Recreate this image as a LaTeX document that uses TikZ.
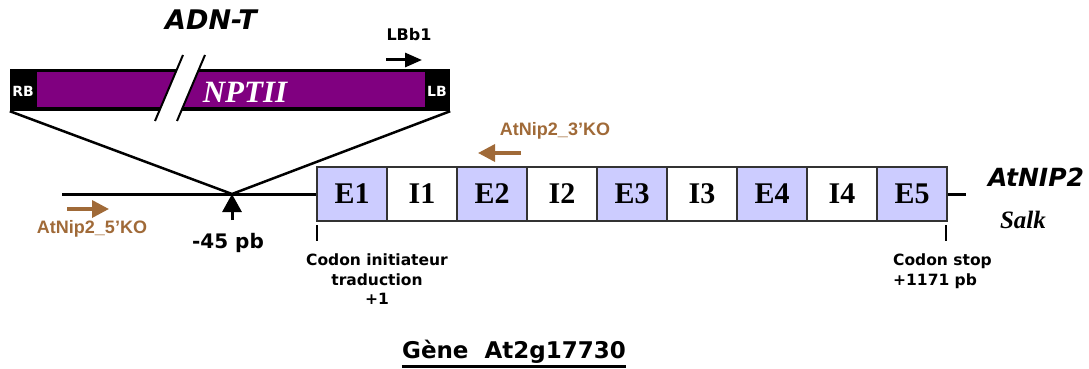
\documentclass[tikz,border=0pt]{standalone}
\usepackage{fontspec}
\setmainfont{Liberation Serif}
\newfontfamily\comic{DejaVu Sans}
\newfontfamily\arialf{Liberation Sans}
\usetikzlibrary{arrows.meta}
\definecolor{exonfill}{HTML}{CCCCFF}
\definecolor{nptpurple}{HTML}{800080}
\definecolor{primer}{RGB}{160,106,56}
\tikzset{
  segbox/.style={draw=black!80, line width=1.1pt, minimum width=70pt, minimum height=54pt, inner sep=0pt,
     font=\fontsize{30}{31}\selectfont\bfseries},
  exonbox/.style={segbox, fill=exonfill},
  intronbox/.style={segbox, fill=white},
  comiclbl/.style={font=\comic\bfseries\fontsize{15.5}{19.5}\selectfont, inner sep=0pt, align=center},
  primerlbl/.style={font=\arialf\bfseries\fontsize{18}{20}\selectfont, text=primer, inner sep=0pt},
  primerarrow/.style={draw=primer, line width=3.5pt, -{Triangle[width=17pt,length=17pt]}},
  dnaline/.style={line width=3pt},
  tickline/.style={line width=2.5pt}
}
\begin{document}
\begin{tikzpicture}[x=1pt,y=-1pt]
\useasboundingbox (0,0) rectangle (1089,369);
% T-DNA bar
\node[fill=black, minimum width=440pt, minimum height=42pt, inner sep=0pt] (bar) at (230,90) {};
\node[fill=nptpurple, minimum width=388pt, minimum height=35pt, inner sep=0pt] (npt) at (231,89.5) {};
% break
\fill[white] (183,55) -- (205,55) -- (177,121) -- (155,121) -- cycle;
\draw[line width=2pt] (183,55) -- (155,121);
\draw[line width=2pt] (205,55) -- (177,121);
\node[text=white, font=\fontsize{31}{32}\selectfont\bfseries\itshape, inner sep=0pt] (nptlbl) at (245,92) {NPTII};
\node[text=white, font=\comic\bfseries\fontsize{14}{16}\selectfont, inner sep=0pt] (rb) at (23,91) {RB};
\node[text=white, font=\comic\bfseries\fontsize{14}{16}\selectfont, inner sep=0pt] (lb) at (437,91) {LB};
\node[font=\comic\bfseries\itshape\fontsize{27}{30}\selectfont, inner sep=0pt] (adnt) at (211,20) {ADN-T};
\node[font=\comic\bfseries\fontsize{16}{18}\selectfont, inner sep=0pt] (lbb1) at (409,35) {LBb1};
\coordinate (lbbs) at (386,60);
\coordinate (lbbe) at (422,60);
\draw[line width=3pt, -{Triangle[width=14pt,length=17pt]}] (lbbs) -- (lbbe);
% gene segments
\node[exonbox] (E1) at (352,194) {E1};
\node[intronbox] (I1) at (422,194) {I1};
\node[exonbox] (E2) at (492,194) {E2};
\node[intronbox] (I2) at (562,194) {I2};
\node[exonbox] (E3) at (632,194) {E3};
\node[intronbox] (I3) at (702,194) {I3};
\node[exonbox] (E4) at (772,194) {E4};
\node[intronbox] (I4) at (842,194) {I4};
\node[exonbox] (E5) at (912,194) {E5};
% genomic line
\coordinate (lstart) at (62,194);
\coordinate (ins) at (232,194);
\coordinate (rend) at (966,194);
\draw[dnaline] (lstart) -- (E1.west);
\draw[dnaline] (E5.east) -- (rend);
\draw[line width=2.5pt] (bar.south west) -- (ins) -- (bar.south east);
% insertion arrow
\coordinate (insb) at (232,220);
\draw[line width=3pt, -{Triangle[width=19pt,length=18pt]}] (insb) -- (ins);
\node[font=\comic\bfseries\fontsize{20}{22}\selectfont, inner sep=0pt] (m45) at (228,243) {-45 pb};
% primers
\node[primerlbl] (p3lbl) at (555,131) {AtNip2\_3’KO};
\coordinate (p3s) at (521,153);
\coordinate (p3e) at (478,153);
\draw[primerarrow] (p3s) -- (p3e);
\node[primerlbl] (p5lbl) at (92,229) {AtNip2\_5’KO};
\coordinate (p5s) at (67,209);
\coordinate (p5e) at (109,209);
\draw[primerarrow] (p5s) -- (p5e);
% ticks
\coordinate (t1a) at (317,225);
\coordinate (t1b) at (317,241);
\draw[tickline] (t1a) -- (t1b);
\coordinate (t2a) at (946,225);
\coordinate (t2b) at (946,241);
\draw[tickline] (t2a) -- (t2b);
\node[comiclbl, anchor=north] (cinit) at (377,254) {Codon initiateur\\traduction\\+1};
\node[comiclbl, anchor=north west, align=left] (cstop) at (893,254) {Codon stop\\+1171 pb};
% gene names
\node[font=\comic\bfseries\itshape\fontsize{25}{27}\selectfont, inner sep=0pt] (atnip) at (1036,177) {AtNIP2};
\node[font=\fontsize{25}{27}\selectfont\bfseries\itshape, inner sep=0pt] (salk) at (1023,220) {Salk};
\node[font=\comic\bfseries\fontsize{23}{25}\selectfont, inner sep=0pt] (gene) at (514,352) {Gène\ \ At2g17730};
\draw[line width=2.5pt] ([yshift=-2.5pt]gene.south west) -- ([yshift=-2.5pt]gene.south east);
\end{tikzpicture}
\end{document}
